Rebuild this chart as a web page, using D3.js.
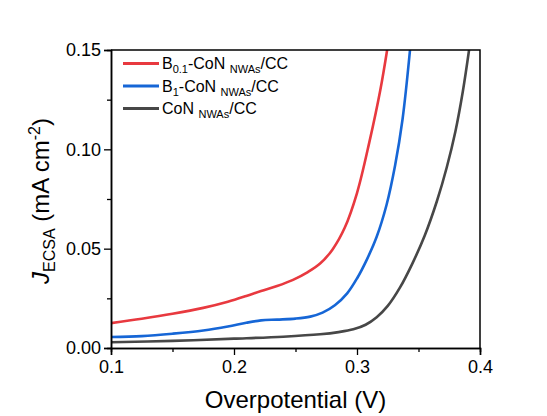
<!DOCTYPE html>
<html>
<head>
<meta charset="utf-8">
<script src="https://cdn.jsdelivr.net/npm/d3@7"></script>
<style>
body { margin: 0; background: #fff; }
svg { font-family: "Liberation Sans", Arial, sans-serif; }
</style>
</head>
<body>
<script>
// dati: sovrapotenziale (V) e J_ECSA (mA cm-2)
var redV  = [0.100, 0.125, 0.150, 0.175, 0.195, 0.210, 0.222, 0.235, 0.248, 0.260, 0.270, 0.280, 0.290, 0.300, 0.310, 0.319, 0.3245]
var redJ  = [0.0125, 0.0147, 0.0172, 0.0202, 0.0233, 0.0262, 0.0287, 0.0312, 0.0343, 0.0382, 0.0425, 0.0495, 0.0605, 0.0780, 0.1035, 0.1300, 0.1500]

var blueV = [0.100, 0.125, 0.150, 0.175, 0.195, 0.210, 0.222, 0.235, 0.250, 0.262, 0.272, 0.282, 0.292, 0.300, 0.308, 0.316, 0.324, 0.331, 0.337, 0.3431]
var blueJ = [0.0055, 0.0060, 0.0072, 0.0088, 0.0108, 0.0127, 0.0139, 0.0143, 0.0148, 0.0158, 0.0178, 0.0215, 0.0275, 0.0350, 0.0445, 0.0560, 0.0720, 0.0920, 0.1150, 0.1500]

var greyV = [0.100, 0.150, 0.200, 0.240, 0.270, 0.285, 0.297, 0.307, 0.316, 0.325, 0.335, 0.345, 0.355, 0.365, 0.373, 0.380, 0.386, 0.3911]
var greyJ = [0.0029, 0.0036, 0.0047, 0.0057, 0.0069, 0.0080, 0.0094, 0.0117, 0.0155, 0.0212, 0.0305, 0.0425, 0.0565, 0.0740, 0.0910, 0.1090, 0.1290, 0.1500]

var xMajor = [0.1, 0.2, 0.3, 0.4]
var xMinor = [0.15, 0.25, 0.35]
var yMajor = [0, 0.05, 0.10, 0.15]
var yMinor = [0.025, 0.075, 0.125]

var colors = ["#e8393f", "#1666d6", "#474747"]

var width = 547, height = 416
var margin = {top: 50, right: 67, bottom: 68, left: 111}

var svg = d3.select("body").append("svg")
    .attr("width", width)
    .attr("height", height)

var x = d3.scaleLinear().domain([0.1, 0.4]).range([margin.left, width - margin.right])
var y = d3.scaleLinear().domain([0, 0.15]).range([height - margin.bottom, margin.top])

// clip per le curve
svg.append("clipPath").attr("id", "clip")
    .append("rect")
    .attr("x", x(0.1)).attr("y", y(0.15))
    .attr("width", x(0.4) - x(0.1)).attr("height", y(0) - y(0.15))

var series = [
    {v: redV, j: redJ},
    {v: blueV, j: blueJ},
    {v: greyV, j: greyJ}
]

var line = d3.line()
    .x(function(d) { return x(d[0]) })
    .y(function(d) { return y(d[1]) })
    .curve(d3.curveCatmullRom.alpha(0.5))

// disegno prima il grigio, poi blu, poi rosso
for (var k = series.length - 1; k >= 0; k--) {
    var pts = series[k].v.map(function(v, i) { return [v, series[k].j[i]] })
    svg.append("path")
        .datum(pts)
        .attr("clip-path", "url(#clip)")
        .attr("fill", "none")
        .attr("stroke", colors[k])
        .attr("stroke-width", 2.6)
        .attr("stroke-linejoin", "round")
        .attr("d", line)
}

// assi
function styleAxis(g) {
    g.select(".domain").attr("stroke", "#000").attr("stroke-width", 1.5)
    g.selectAll(".tick line").attr("stroke", "#000").attr("stroke-width", 1.3)
    g.selectAll(".tick text").attr("fill", "#000").style("font-size", "18px")
}

svg.append("g")
    .attr("transform", "translate(0," + y(0) + ")")
    .call(d3.axisBottom(x).tickValues(xMinor).tickSize(4).tickFormat(""))
    .call(styleAxis)

svg.append("g")
    .attr("transform", "translate(0," + y(0) + ")")
    .call(d3.axisBottom(x).tickValues(xMajor).tickSize(7).tickPadding(5).tickFormat(d3.format(".1f")))
    .call(styleAxis)

svg.append("g")
    .attr("transform", "translate(" + x(0.1) + ",0)")
    .call(d3.axisLeft(y).tickValues(yMinor).tickSize(4).tickFormat(""))
    .call(styleAxis)

svg.append("g")
    .attr("transform", "translate(" + x(0.1) + ",0)")
    .call(d3.axisLeft(y).tickValues(yMajor).tickSize(7).tickPadding(3).tickFormat(d3.format(".2f")))
    .call(styleAxis)

// bordo sopra e a destra
svg.append("path")
    .attr("d", "M" + x(0.1) + "," + y(0.15) + "H" + x(0.4) + "V" + y(0))
    .attr("fill", "none")
    .attr("stroke", "#000")
    .attr("stroke-width", 1.5)

// titoli degli assi
svg.append("text")
    .attr("x", (x(0.1) + x(0.4)) / 2)
    .attr("y", 408)
    .attr("text-anchor", "middle")
    .style("font-size", "24px")
    .text("Overpotential (V)")

var yt = svg.append("text")
    .attr("transform", "translate(49," + ((y(0) + y(0.15)) / 2 + 2) + ") rotate(-90)")
    .attr("text-anchor", "middle")
    .style("font-size", "24px")
yt.append("tspan").style("font-style", "italic").text("J")
yt.append("tspan").attr("dy", 6).style("font-size", "16px").text("ECSA")
yt.append("tspan").attr("dy", -6).text(" (mA cm")
yt.append("tspan").attr("dy", -9).style("font-size", "16px").text("-2")
yt.append("tspan").attr("dy", 9).text(")")

// legenda
var legendSub = [["B", "0.1", "-CoN "], ["B", "1", "-CoN "], ["", "", "CoN "]]
legendSub.forEach(function(p, i) {
    var ly = 63.5 + i * 22.5
    svg.append("line")
        .attr("x1", 123).attr("x2", 159)
        .attr("y1", ly).attr("y2", ly)
        .attr("stroke", colors[i])
        .attr("stroke-width", 3.2)
    var t = svg.append("text")
        .attr("x", 162)
        .attr("y", ly + 5.5)
        .style("font-size", "16px")
    if (p[0] != "") {
        t.append("tspan").text(p[0])
        t.append("tspan").attr("dy", 4).style("font-size", "11px").text(p[1])
        t.append("tspan").attr("dy", -4).text(p[2])
    } else {
        t.append("tspan").text(p[2])
    }
    t.append("tspan").attr("dy", 4).style("font-size", "11px").text("NWAs")
    t.append("tspan").attr("dy", -4).text("/CC")
})
</script>
</body>
</html>
